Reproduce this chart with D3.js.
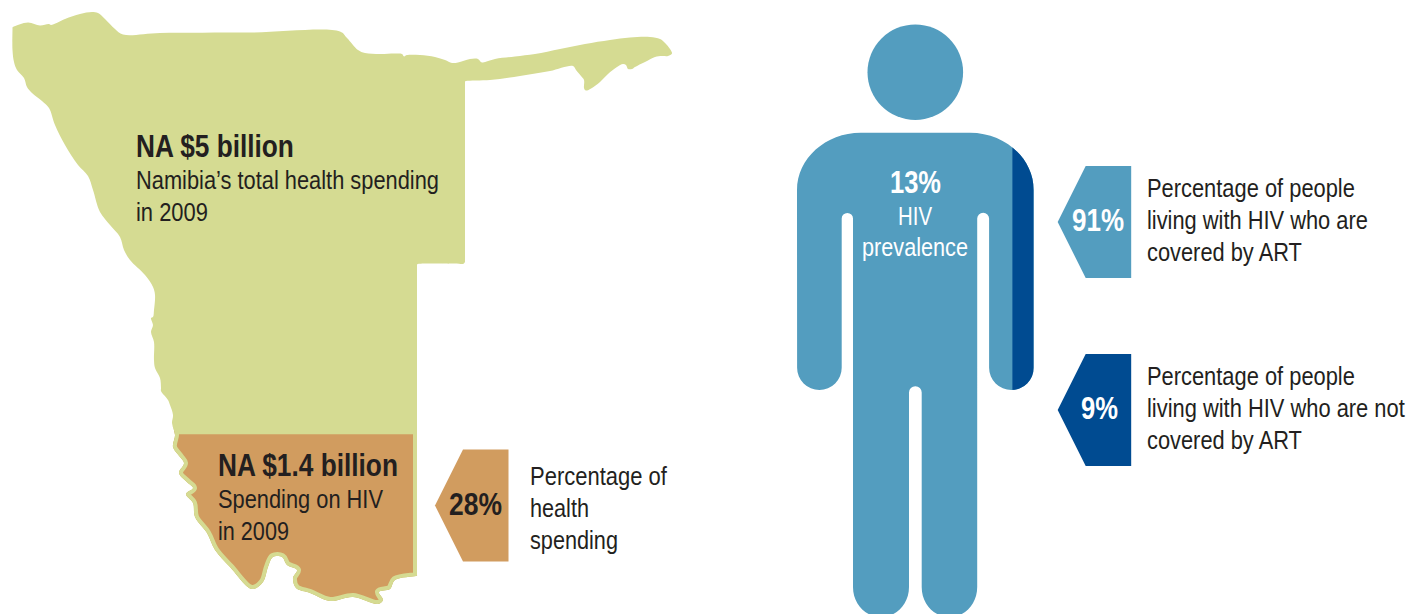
<!DOCTYPE html>
<html>
<head>
<meta charset="utf-8">
<script src="https://cdn.jsdelivr.net/npm/d3@7/dist/d3.min.js"></script>
<style>
  html, body { margin: 0; padding: 0; background: #fff; }
  svg { display: block; }
  text { font-family: "Liberation Sans", Arial, sans-serif; }
</style>
</head>
<body>
<svg id="chart" width="1408" height="614"></svg>
<script>
// Spending figures, in billions of Namibian dollars
const totalSpending = 5;
const hivSpending = 1.4;
const hivSharePct = 28;

// HIV prevalence and treatment coverage, in percent
const prevalencePct = 13;
const artCoveredPct = 91;
const artUncoveredPct = 9;

// Namibia outline, north and west coast, in map units
const northBorder = [
  [12.5,27.5],[13,27],[28,22.5],[40,25.5],[49,24],[51,25],[65,19],[80,14],[92,12],[98,13],[105,19],[115,29],[123,34.5],
  [160,33],[250,32.5],[340,31.5],[347,38],[358,50],[365,53],[380,54],[395,53.5],[402,54],[404,56.5],[407,55],
  [420,55],[435,57],[445,60],[452,63],[458,62.5],[470,59],[478,59],[481,62],[483,62.5],[495,59],[515,56.5],
  [535,54],[560,49],[585,44],[610,40],[630,37.5],[650,37],[660,39],[664,42],[670,49],[672,53.5],[668,56],
  [662,56],[655,57],[645,62],[635,67],[632,69],[628,69],[626,65],[623,64],[617,67],[608,74],[600,82],[592,88],
  [587,90.5],[585,90],[584,88],[584,80],[581,76],[576,70],[573,66],[550,71],[520,76],[490,80],[466,81],
  [465,81.5],[465,82],[465,261],[465,262],[463,264],[462,264],[418,264],[417,264.5],[417,265]
];
const southBorder = [
  [417,574],[417,575.5],[416,576],[395,580],[390,589],[379,592],[383,600],[378,604],[353,597],[330,601],[310,593],
  [296,588],[293,578],[297,570],[287,565],[282,557],[273,557],[268,567],[263,582],[252,589],[230,567],
  [215,550],[207,533],[195,517],[193,503],[186,494],[193,488],[188,483],[179,473],[184,463],[180,457],
  [173,447],[175,435]
];
const westCoast = [
  [172,423],[173,415],[170,405],[168,400],[161,391],[161,388],[160,378],[155,368],[154,360],[154,342],[151,332],
  [153,325],[151,318],[153,317],[154,310],[155,295],[153,287],[145,275],[130,260],[124,250],[120,237],
  [110,225],[100,212],[93,190],[88,176],[78,165],[65,145],[55,125],[49,108],[42,101],[32,93],[27,87],[24,78],
  [17,70],[14,62],[12.5,50],[12.5,29]
];

// Text blocks: [string, left edge, right edge, baseline, bold]
const mapLabels = [
  ["NA $5 billion", 136, 294, 157, true],
  ["Namibia\u2019s total health spending", 136, 439, 189, false],
  ["in 2009", 136, 208, 221, false],
  ["NA $1.4 billion", 218, 398, 476, true],
  ["Spending on HIV", 218, 383, 508, false],
  ["in 2009", 218, 289, 540, false],
  ["Percentage of", 530, 667, 485, false],
  ["health", 530, 589, 517, false],
  ["spending", 530, 618, 549, false]
];
const sideLabels = [
  ["Percentage of people", 1147, 1355, 197, false],
  ["living with HIV who are", 1147, 1368, 229, false],
  ["covered by ART", 1147, 1302, 261, false],
  ["Percentage of people", 1147, 1355, 385, false],
  ["living with HIV who are not", 1147, 1405, 417, false],
  ["covered by ART", 1147, 1302, 449, false]
];

const green = "#d5db92", tan = "#d19c5f", blue = "#539dbf", navy = "#004b91", ink = "#231f20";

const svg = d3.select("#chart");
const defs = svg.append("defs");

// The spending scale runs the height of the country, so the tan block is the HIV share of it
const spendY = d3.scaleLinear().domain([0, totalSpending]).range([605, -5]);
const splitY = spendY(hivSpending);

const mapLine = d3.line().curve(d3.curveCatmullRomClosed.alpha(0.5));
const country = northBorder.concat(southBorder, westCoast);

defs.append("clipPath").attr("id", "country-clip").append("path").attr("d", mapLine(country));
svg.append("path").attr("d", mapLine(country)).attr("fill", green);

// HIV block: southern border up to the split line, edged in green by an inner stroke
const hivBlock = [[174, splitY - 4], [174.5, splitY - 4], [416.5, splitY - 4], [417, splitY - 4], [417, splitY]].concat(southBorder, [[174.5, splitY]]);
svg.append("path")
  .attr("d", mapLine(hivBlock))
  .attr("clip-path", "url(#country-clip)")
  .attr("fill", tan)
  .attr("stroke", green)
  .attr("stroke-width", 8)
  .attr("stroke-linejoin", "round");

// Pointed badge with its tip on the left
function badge(topY, tipX, fill) {
  const h = 112, notch = 28, w = 73.5;
  const p = d3.path();
  p.moveTo(tipX, topY + h / 2);
  p.lineTo(tipX + notch, topY);
  p.lineTo(tipX + w, topY);
  p.lineTo(tipX + w, topY + h);
  p.lineTo(tipX + notch, topY + h);
  p.closePath();
  svg.append("path").attr("d", p.toString()).attr("fill", fill);
}
badge(449.5, 435, tan);
badge(166, 1057.7, blue);
badge(354, 1057.7, navy);

// Figure: head, then torso with arms and legs built as one outline
const figLeft = 797, figRight = 1033.7, figTop = 132.7, figBottom = 617;
const armBottom = 390, armR = 22.3;
const figure = d3.path();
figure.moveTo(figLeft, 190);
figure.bezierCurveTo(figLeft, 158.5, 825.7, figTop, 860.7, figTop);
figure.lineTo(970, figTop);
figure.bezierCurveTo(1005, figTop, figRight, 158.5, figRight, 190);
figure.lineTo(figRight, armBottom - armR);
figure.arc(figRight - armR, armBottom - armR, armR, 0, Math.PI);
figure.lineTo(989.1, 218.6);
figure.arc(983.15, 218.6, 5.95, 0, Math.PI, true);
figure.lineTo(977.2, 587);
figure.bezierCurveTo(977.2, 604, 965, figBottom, 949.5, figBottom);
figure.bezierCurveTo(934, figBottom, 921.7, 604, 921.7, 587);
figure.lineTo(921.7, 392.5);
figure.arc(915.35, 392.5, 6.35, 0, Math.PI, true);
figure.lineTo(909, 587);
figure.bezierCurveTo(909, 604, 896.5, figBottom, 881, figBottom);
figure.bezierCurveTo(865.5, figBottom, 853, 604, 853, 587);
figure.lineTo(853, 218.6);
figure.arc(847.35, 218.6, 5.65, 0, Math.PI, true);
figure.lineTo(841.7, armBottom - armR);
figure.arc(819.4, armBottom - armR, armR, 0, Math.PI);
figure.closePath();

svg.append("circle").attr("cx", 915.3).attr("cy", 72.2).attr("r", 47.8).attr("fill", blue);
svg.append("path").attr("d", figure.toString()).attr("fill", blue);

// The uncovered share is the same fraction of the figure's width
const coverX = d3.scaleLinear().domain([0, 100]).range([figLeft, figRight]);
defs.append("clipPath").attr("id", "figure-clip").append("path").attr("d", figure.toString());
svg.append("rect")
  .attr("clip-path", "url(#figure-clip)")
  .attr("x", coverX(artCoveredPct))
  .attr("y", figTop)
  .attr("width", coverX(100) - coverX(artCoveredPct))
  .attr("height", armBottom - figTop)
  .attr("fill", navy);

// Text squeezed horizontally so each line spans its measured width
function squeezeToWidth(sel) {
  sel.attr("transform", function (d) {
    const natural = this.getComputedTextLength();
    return `translate(${d[1]},${d[3]}) scale(${(d[2] - d[1]) / natural},1)`;
  });
}
const regularSize = 26, boldSize = 30.5;
function labelBlock(rows) {
  svg.append("g").selectAll("text").data(rows).join("text")
    .attr("font-size", d => d[4] ? boldSize : regularSize)
    .attr("font-weight", d => d[4] ? 700 : 400)
    .attr("fill", ink)
    .text(d => d[0])
    .call(squeezeToWidth);
}
labelBlock(mapLabels);
labelBlock(sideLabels);

// Values on badges and figure
const valueRows = [
  [`${hivSharePct}%`, 449, 502, 515, ink, 700, boldSize],
  [`${artCoveredPct}%`, 1072, 1124, 231, "#fff", 700, boldSize],
  [`${artUncoveredPct}%`, 1081, 1118, 419, "#fff", 700, boldSize],
  [`${prevalencePct}%`, 890, 941, 193, "#fff", 700, boldSize],
  ["HIV", 898, 932, 225, "#fff", 400, regularSize],
  ["prevalence", 862, 968, 256, "#fff", 400, regularSize]
];
svg.append("g").selectAll("text").data(valueRows).join("text")
  .attr("fill", d => d[4])
  .attr("font-weight", d => d[5])
  .attr("font-size", d => d[6])
  .text(d => d[0])
  .call(squeezeToWidth);
</script>
</body>
</html>
